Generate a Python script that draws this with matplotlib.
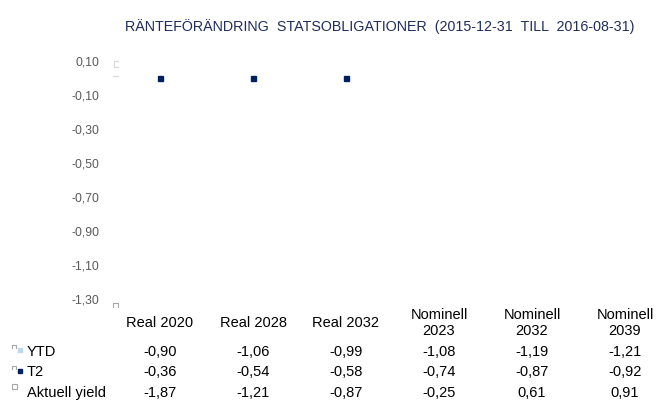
import matplotlib.pyplot as plt
from matplotlib.transforms import blended_transform_factory

plt.rcParams['font.family'] = ['Liberation Sans', 'DejaVu Sans']

categories = ['Real 2020', 'Real 2028', 'Real 2032', 'Nominell\n2023', 'Nominell\n2032', 'Nominell\n2039']
ytd = [-0.90, -1.06, -0.99, -1.08, -1.19, -1.21]
t2 = [-0.36, -0.54, -0.58, -0.74, -0.87, -0.92]
aktuell_yield = [-1.87, -1.21, -0.87, -0.25, 0.61, 0.91]
series_names = ['YTD', 'T2', 'Aktuell yield']
# the only marks the reference actually draws: T2 markers sitting at zero
marker_values = [0.0, 0.0, 0.0]
yticks = [0.10, -0.10, -0.30, -0.50, -0.70, -0.90, -1.10, -1.30]

W, H = 656, 403
fig = plt.figure(figsize=(W / 100, H / 100), dpi=100)

def fy(py):
    return 1 - py / H

ax = fig.add_axes([113.5 / W, fy(299), 558 / W, (299 - 61) / H])
ax.set_xlim(-0.5, 5.5)
ax.set_ylim(-1.30, 0.10)
for s in ax.spines.values():
    s.set_visible(False)
ax.set_xticks([])
ax.set_yticks(yticks)
ax.set_yticklabels([f'{v:.2f}'.replace('.', ',') for v in yticks], fontsize=8.8, color='#595959')
ax.tick_params(axis='y', length=0, pad=10)

ax.plot(range(len(marker_values)), marker_values, linestyle='none', marker='s',
        markersize=3.6, color='#002060', clip_on=False)

title = 'RÄNTEFÖRÄNDRING  STATSOBLIGATIONER  (2015-12-31  TILL  2016-08-31)'
fig.text(380 / W, fy(27), title, ha='center', va='center', fontsize=10.3, color='#1F2D5C')

# data table under the plot
tr = blended_transform_factory(ax.transData, fig.transFigure)
for i, cat in enumerate(categories):
    ax.text(i, fy(323), cat, transform=tr, ha='center', va='center', fontsize=10.5,
            linespacing=1.15, color='black')
row_y = [352, 372, 393]
for vals, py in zip([ytd, t2, aktuell_yield], row_y):
    for i, v in enumerate(vals):
        ax.text(i, fy(py), f'{v:.2f}'.replace('.', ','), transform=tr, ha='center',
                va='center', fontsize=10.5, color='black')

for name, py in zip(series_names, row_y):
    fig.text(27 / W, fy(py), name, ha='left', va='center', fontsize=10.5, color='black')

# legend keys in the table
fig.add_artist(plt.Line2D([20 / W], [fy(350)], marker='s', markersize=3.2, color='#BDD7EE',
                          linestyle='none'))
fig.add_artist(plt.Line2D([20 / W], [fy(371)], marker='s', markersize=3.2, color='#002060',
                          linestyle='none'))
fig.add_artist(plt.Line2D([14 / W], [fy(386)], marker='s', markersize=3.6, markerfacecolor='white',
                          markeredgecolor='#A6A6A6', markeredgewidth=0.8, linestyle='none'))
for py in [345, 366]:
    fig.add_artist(plt.Line2D([12 / W, 12 / W, 16 / W, 16 / W], [fy(py + 3), fy(py), fy(py), fy(py + 3)],
                              color='#A6A6A6', linewidth=0.8))
fig.add_artist(plt.Line2D([113 / W, 113 / W, 118 / W, 118 / W],
                          [fy(307), fy(303), fy(303), fy(307)], color='#A6A6A6', linewidth=0.8))
fig.add_artist(plt.Line2D([118 / W, 114 / W, 114 / W, 118 / W],
                          [fy(61), fy(61), fy(67), fy(67)], color='#D9D9D9', linewidth=0.8))
fig.add_artist(plt.Line2D([113 / W, 118 / W], [fy(76), fy(76)], color='#D9D9D9', linewidth=0.8))

fig.savefig('out.png', dpi=100)
